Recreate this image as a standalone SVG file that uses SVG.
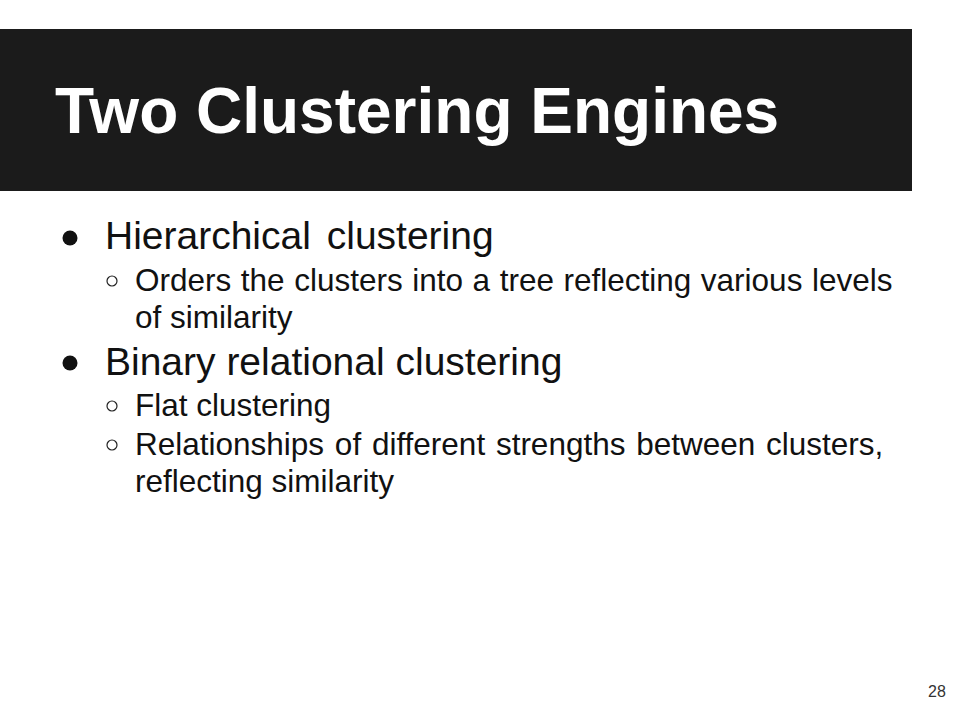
<svg xmlns="http://www.w3.org/2000/svg" width="960" height="720" viewBox="0 0 960 720">
  <style>
    .title { font-family: "Liberation Sans", Arial, sans-serif; font-weight: bold; font-size: 64px; fill: #ffffff; }
    .l1 { font-family: "Liberation Sans", Arial, sans-serif; font-size: 39px; fill: #111111; }
    .l2 { font-family: "Liberation Sans", Arial, sans-serif; font-size: 31.5px; fill: #111111; }
    .dot { fill: #111111; }
    .ring { fill: none; stroke: #222222; stroke-width: 1.2; }
    .pnum { font-family: "Liberation Sans", Arial, sans-serif; font-size: 16px; fill: #333333; }
  </style>
  <rect width="960" height="720" fill="#ffffff"/>
  <g id="title-bar">
    <rect x="0" y="29" width="912" height="162" fill="#1b1b1b"/>
    <text class="title" x="55" y="133">Two Clustering Engines</text>
  </g>
  <g id="bullet-hierarchical">
    <circle class="dot" cx="70" cy="238" r="7.5"/>
    <text class="l1" x="105" y="249" word-spacing="5">Hierarchical clustering</text>
    <circle class="ring" cx="112" cy="281" r="5"/>
    <text class="l2" x="135" y="291" word-spacing="0.8">Orders the clusters into a tree reflecting various levels</text>
    <text class="l2" x="135" y="328">of similarity</text>
  </g>
  <g id="bullet-binary">
    <circle class="dot" cx="70" cy="363" r="7.5"/>
    <text class="l1" x="105" y="375">Binary relational clustering</text>
    <circle class="ring" cx="112" cy="406" r="5"/>
    <text class="l2" x="135" y="416">Flat clustering</text>
    <circle class="ring" cx="112" cy="445" r="5"/>
    <text class="l2" x="135" y="455" word-spacing="2">Relationships of different strengths between clusters,</text>
    <text class="l2" x="135" y="492">reflecting similarity</text>
  </g>
  <g id="page-number">
    <text class="pnum" x="928" y="697">28</text>
  </g>
</svg>
